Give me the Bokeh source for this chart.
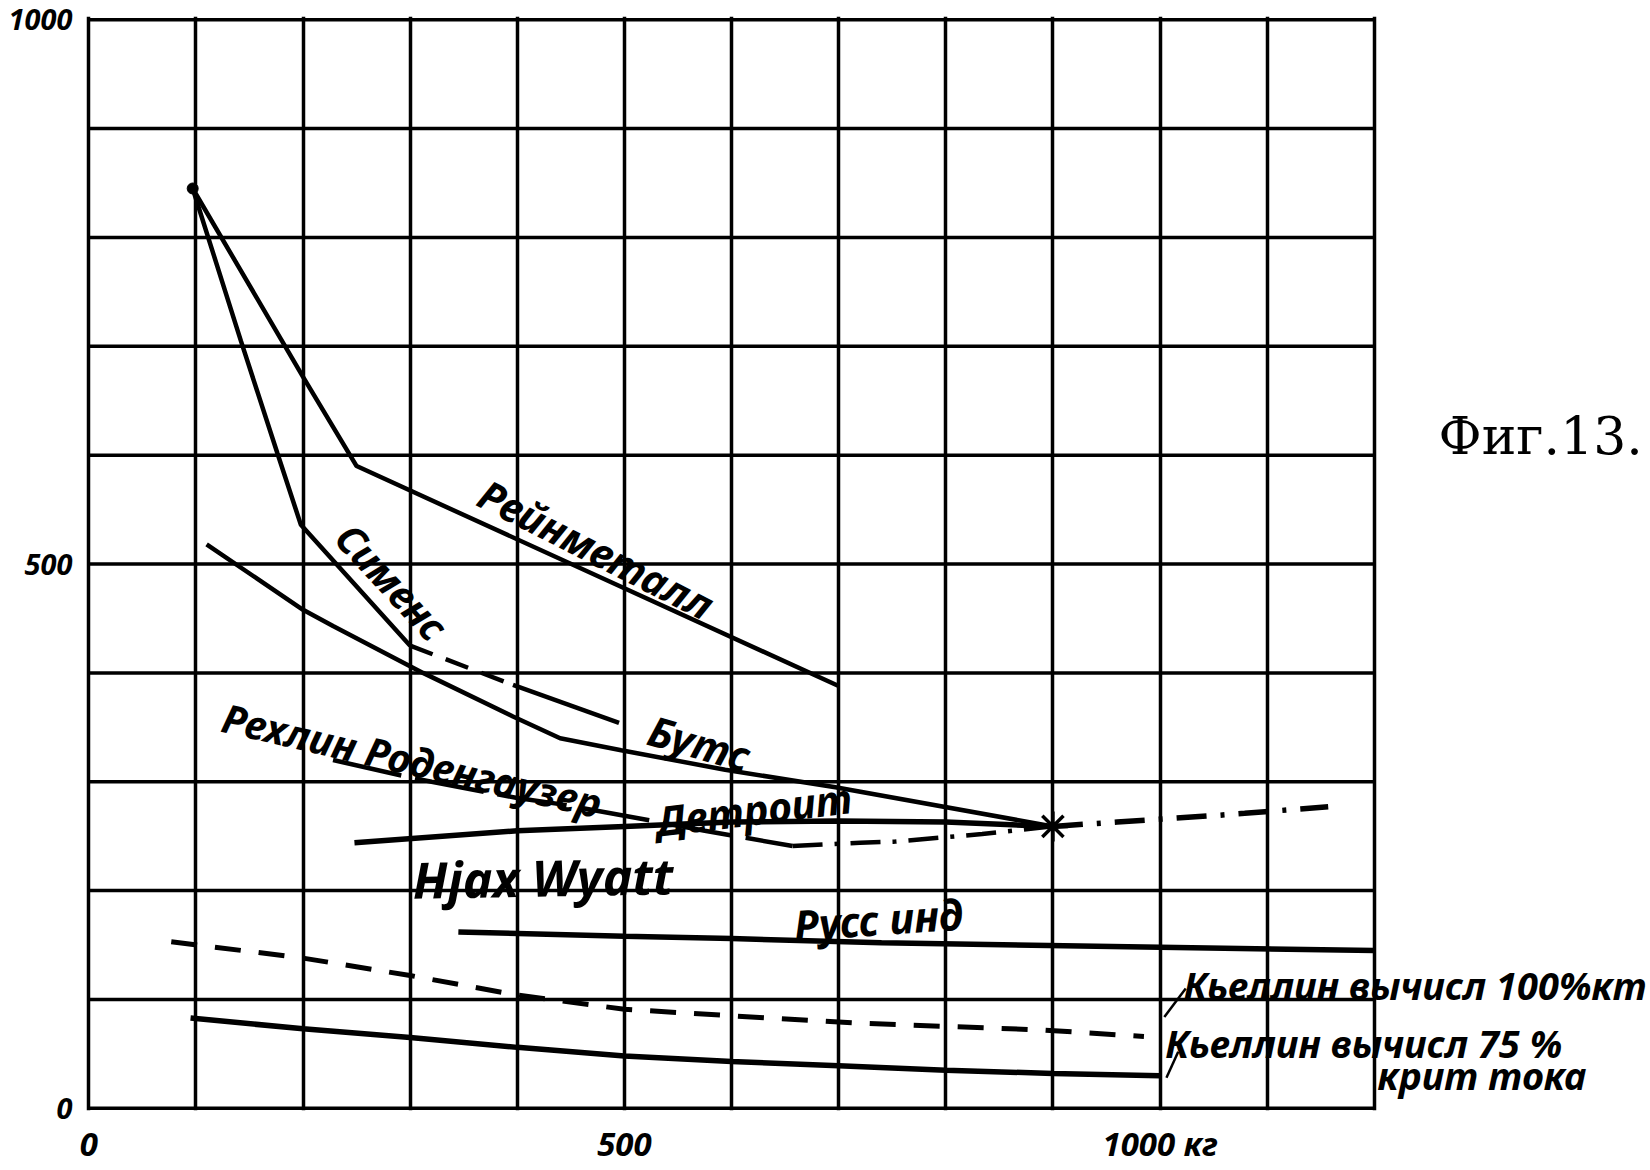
from bokeh.plotting import figure
from bokeh.models import Label, FixedTicker, Range1d
from bokeh.embed import file_html
from bokeh.resources import INLINE

# ---------------- data ----------------
x_ticks = [0, 500, 1000]
x_tick_labels = ["0", "500", "1000 кг"]
y_ticks = [0, 500, 1000]
y_tick_labels = ["0", "500", "1000"]

grid_x = [0, 100, 200, 300, 400, 500, 600, 700, 800, 900, 1000, 1100, 1200]
grid_y = [0, 100, 200, 300, 400, 500, 600, 700, 800, 900, 1000]

rein_x = [97, 200, 250, 700]
rein_y = [845, 672, 590, 388]

siem_x = [97, 142, 176, 198, 300, 396, 495]
siem_y = [845, 705, 602, 536, 425, 389, 354]

boots_x = [110, 200, 228, 312, 396, 440, 497, 594, 697, 900]
boots_y = [518, 458, 443, 400, 360, 340, 329, 311, 295, 259]

rehlin_x = [228, 295, 320, 400, 443, 543, 575, 657]
rehlin_y = [320, 305, 300, 285, 279, 261, 255, 241]

detroit_x = [657, 720, 752, 834, 900]
detroit_y = [241, 244, 245, 252, 259]

tail_x = [900, 960, 1052, 1079, 1157]
tail_y = [259, 263, 269, 271, 277]

wyatt_x = [248, 400, 500, 600, 700, 800, 900]
wyatt_y = [244, 255, 259, 263, 264, 263, 259]

russ_x = [345, 500, 600, 740, 1000, 1200]
russ_y = [162, 158, 156, 152, 148, 145]

kj100_x = [77, 200, 300, 400, 500, 600, 725, 890, 985]
kj100_y = [153, 138, 122, 104, 91, 85, 78, 72, 66]

kj75_x = [95, 200, 300, 400, 500, 600, 700, 800, 900, 1000]
kj75_y = [83, 73, 65, 56, 48, 43, 39, 35, 32, 30]

cross_x = [900]
cross_y = [259]

start_x = [97]
start_y = [845]

ptr1_x = [1024, 1004]
ptr1_y = [110, 84]
ptr2_x = [1017, 1006]
ptr2_y = [52, 28]

FONT = "Noto Sans"

p = figure(width=1648, height=1168,
           x_range=Range1d(-4, 1456), y_range=Range1d(-2, 1003),
           output_backend="svg", toolbar_location=None,
           min_border_left=84, min_border_right=0,
           min_border_top=16, min_border_bottom=56)

p.background_fill_color = "white"
p.border_fill_color = "white"
p.outline_line_color = None

for ax in (p.xaxis, p.yaxis):
    ax.axis_line_color = None
    ax.major_tick_line_color = None
    ax.minor_tick_line_color = None
    ax.major_label_text_font = FONT
    ax.major_label_text_font_style = "bold italic"
    ax.major_label_text_color = "black"

p.xaxis.ticker = FixedTicker(ticks=x_ticks)
p.xaxis.major_label_overrides = {t: l for t, l in zip(x_ticks, x_tick_labels)}
p.xaxis.major_label_standoff = 4
p.xaxis.major_label_text_font_size = "33px"
p.yaxis.ticker = FixedTicker(ticks=y_ticks)
p.yaxis.major_label_overrides = {t: l for t, l in zip(y_ticks, y_tick_labels)}
p.yaxis.major_label_standoff = 6
p.yaxis.major_label_text_font_size = "29px"

# vertical grid lines through the library grid, horizontal ones as segments
p.xgrid.ticker = FixedTicker(ticks=grid_x)
p.xgrid.grid_line_color = "black"
p.xgrid.grid_line_width = 3.5
p.xgrid.grid_line_alpha = 1.0
p.ygrid.grid_line_color = None
p.segment(x0=[grid_x[0]] * len(grid_y), y0=grid_y,
          x1=[grid_x[-1]] * len(grid_y), y1=grid_y,
          line_color="black", line_width=3.5)

LW = 4.5
p.line(rein_x, rein_y, line_color="black", line_width=LW)
p.line(siem_x[:5], siem_y[:5], line_color="black", line_width=LW)
p.line(siem_x[4:6], siem_y[4:6], line_color="black", line_width=LW, line_dash="24 14")
p.line(siem_x[5:], siem_y[5:], line_color="black", line_width=LW)
p.line(boots_x, boots_y, line_color="black", line_width=LW)
p.line(rehlin_x, rehlin_y, line_color="black", line_width=LW, line_dash="70 14")
p.line(detroit_x, detroit_y, line_color="black", line_width=LW, line_dash="30 12 4 12")
p.line(tail_x, tail_y, line_color="black", line_width=LW + 1, line_dash="30 14 4 14")
p.line(wyatt_x, wyatt_y, line_color="black", line_width=LW + 1)
p.line(russ_x, russ_y, line_color="black", line_width=LW + 1)
p.line(kj100_x, kj100_y, line_color="black", line_width=LW + 0.5, line_dash="26 18")
p.line(kj75_x, kj75_y, line_color="black", line_width=LW + 1)
p.line(ptr1_x, ptr1_y, line_color="black", line_width=2.5)
p.line(ptr2_x, ptr2_y, line_color="black", line_width=2.5)

p.scatter(cross_x, cross_y, marker="asterisk", size=30, line_color="black", line_width=3.5)
p.scatter(start_x, start_y, marker="circle", size=11, color="black")


def lab(x, y, text, angle=0.0, size="38px", align="center", baseline="middle",
        font=FONT, style="bold italic"):
    p.add_layout(Label(x=x, y=y, text=text, angle=angle, angle_units="deg",
                       text_font=font, text_font_style=style,
                       text_font_size=size, text_align=align,
                       text_baseline=baseline, text_color="black"))


lab(474, 514, "Рейнметалл", angle=-27, size="41px")
lab(283, 484, "Сименс", angle=-47, size="40px")
lab(302, 320, "Рехлин Роденгаузер", angle=-13, size="40px")
lab(570, 336, "Бутс", angle=-16, size="42px")
lab(621, 275, "Детроит", angle=7, size="41px")
lab(424, 212, "Hjax Wyatt", angle=1, size="50px")
lab(737, 174, "Русс инд", angle=4, size="42px")
lab(1022, 113, "Кьеллин вычисл 100%кт", size="38px", align="left", baseline="alphabetic")
lab(1005, 60, "Кьеллин вычисл  75 %", size="38px", align="left", baseline="alphabetic")
lab(1203, 31, "крит тока", size="38px", align="left", baseline="alphabetic")
lab(1260, 618, "Фиг.13.", size="52px", align="left", baseline="alphabetic",
    font="DejaVu Serif", style="normal")

open("out.html", "w").write(file_html(p, INLINE))
